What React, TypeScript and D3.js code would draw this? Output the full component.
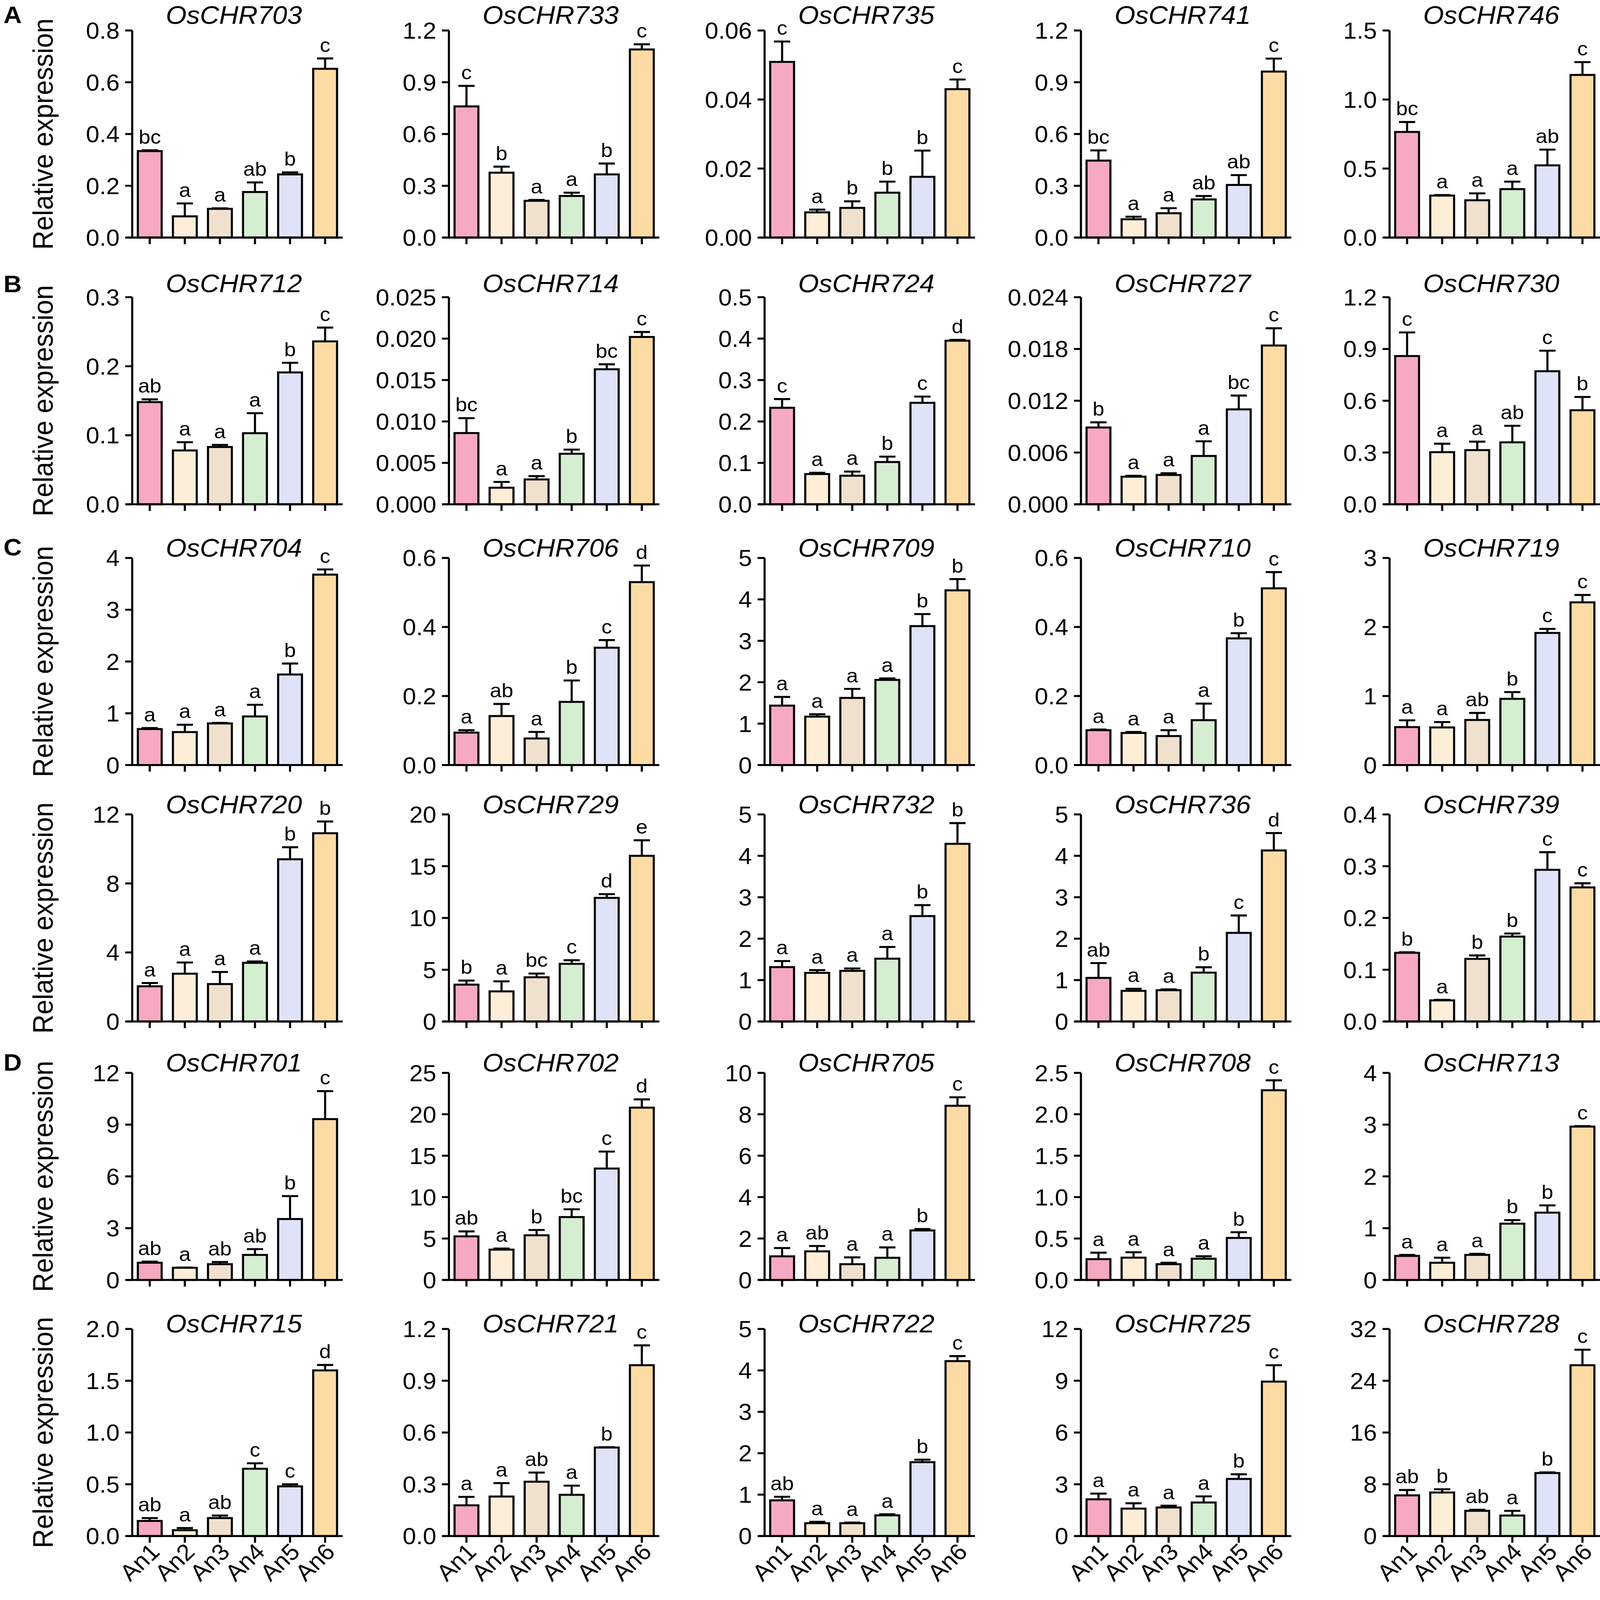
import * as d3 from 'd3'

// groups and fill colours
const groups = ['An1', 'An2', 'An3', 'An4', 'An5', 'An6']
const barColors = ['#F8A9C2', '#FDEED8', '#EFE1CD', '#D5EDD0', '#DEE3F8', '#FDDBA5']

// panels, row by row (5 per row)
const geneNames = [
  'OsCHR703', 'OsCHR733', 'OsCHR735', 'OsCHR741', 'OsCHR746',
  'OsCHR712', 'OsCHR714', 'OsCHR724', 'OsCHR727', 'OsCHR730',
  'OsCHR704', 'OsCHR706', 'OsCHR709', 'OsCHR710', 'OsCHR719',
  'OsCHR720', 'OsCHR729', 'OsCHR732', 'OsCHR736', 'OsCHR739',
  'OsCHR701', 'OsCHR702', 'OsCHR705', 'OsCHR708', 'OsCHR713',
  'OsCHR715', 'OsCHR721', 'OsCHR722', 'OsCHR725', 'OsCHR728',
]

const yTickLabels = [
  ['0.0', '0.2', '0.4', '0.6', '0.8'],
  ['0.0', '0.3', '0.6', '0.9', '1.2'],
  ['0.00', '0.02', '0.04', '0.06'],
  ['0.0', '0.3', '0.6', '0.9', '1.2'],
  ['0.0', '0.5', '1.0', '1.5'],
  ['0.0', '0.1', '0.2', '0.3'],
  ['0.000', '0.005', '0.010', '0.015', '0.020', '0.025'],
  ['0.0', '0.1', '0.2', '0.3', '0.4', '0.5'],
  ['0.000', '0.006', '0.012', '0.018', '0.024'],
  ['0.0', '0.3', '0.6', '0.9', '1.2'],
  ['0', '1', '2', '3', '4'],
  ['0.0', '0.2', '0.4', '0.6'],
  ['0', '1', '2', '3', '4', '5'],
  ['0.0', '0.2', '0.4', '0.6'],
  ['0', '1', '2', '3'],
  ['0', '4', '8', '12'],
  ['0', '5', '10', '15', '20'],
  ['0', '1', '2', '3', '4', '5'],
  ['0', '1', '2', '3', '4', '5'],
  ['0.0', '0.1', '0.2', '0.3', '0.4'],
  ['0', '3', '6', '9', '12'],
  ['0', '5', '10', '15', '20', '25'],
  ['0', '2', '4', '6', '8', '10'],
  ['0.0', '0.5', '1.0', '1.5', '2.0', '2.5'],
  ['0', '1', '2', '3', '4'],
  ['0.0', '0.5', '1.0', '1.5', '2.0'],
  ['0.0', '0.3', '0.6', '0.9', '1.2'],
  ['0', '1', '2', '3', '4', '5'],
  ['0', '3', '6', '9', '12'],
  ['0', '8', '16', '24', '32'],
]

const means = [
  [0.334, 0.082, 0.111, 0.176, 0.244, 0.652],
  [0.76, 0.376, 0.213, 0.241, 0.366, 1.09],
  [0.0509, 0.0073, 0.0086, 0.013, 0.0176, 0.043],
  [0.446, 0.106, 0.141, 0.221, 0.305, 0.962],
  [0.765, 0.304, 0.27, 0.351, 0.523, 1.178],
  [0.148, 0.078, 0.083, 0.103, 0.191, 0.236],
  [0.0086, 0.002, 0.003, 0.0061, 0.0163, 0.0202],
  [0.233, 0.073, 0.069, 0.102, 0.245, 0.395],
  [0.0089, 0.0032, 0.0034, 0.0056, 0.011, 0.0184],
  [0.859, 0.302, 0.314, 0.359, 0.771, 0.545],
  [0.695, 0.637, 0.804, 0.939, 1.749, 3.678],
  [0.094, 0.142, 0.077, 0.183, 0.34, 0.53],
  [1.435, 1.169, 1.621, 2.056, 3.355, 4.218],
  [0.101, 0.093, 0.084, 0.13, 0.367, 0.512],
  [0.55, 0.545, 0.653, 0.959, 1.914, 2.357],
  [2.04, 2.77, 2.17, 3.4, 9.4, 10.91],
  [3.56, 2.91, 4.27, 5.57, 11.94, 16.0],
  [1.313, 1.175, 1.223, 1.517, 2.545, 4.29],
  [1.053, 0.74, 0.756, 1.18, 2.14, 4.13],
  [0.1327, 0.0408, 0.121, 0.164, 0.293, 0.259],
  [0.997, 0.706, 0.913, 1.45, 3.53, 9.32],
  [5.26, 3.66, 5.39, 7.59, 13.45, 20.8],
  [1.14, 1.38, 0.76, 1.07, 2.39, 8.41],
  [0.251, 0.269, 0.19, 0.256, 0.507, 2.29],
  [0.464, 0.332, 0.484, 1.087, 1.3, 2.962],
  [0.146, 0.056, 0.174, 0.65, 0.48, 1.6],
  [0.178, 0.229, 0.315, 0.239, 0.513, 0.99],
  [0.862, 0.31, 0.31, 0.5, 1.784, 4.224],
  [2.13, 1.59, 1.655, 1.945, 3.31, 8.95],
  [6.29, 6.73, 3.9, 3.17, 9.74, 26.4],
]

const sems = [
  [0.003, 0.05, 0.002, 0.037, 0.008, 0.04],
  [0.119, 0.035, 0.005, 0.019, 0.063, 0.03],
  [0.0059, 0.0008, 0.0019, 0.0032, 0.0076, 0.0028],
  [0.059, 0.015, 0.029, 0.02, 0.057, 0.075],
  [0.072, 0.004, 0.05, 0.054, 0.114, 0.093],
  [0.004, 0.012, 0.003, 0.029, 0.014, 0.02],
  [0.0018, 0.0007, 0.0004, 0.0005, 0.0006, 0.0006],
  [0.021, 0.003, 0.01, 0.013, 0.015, 0.002],
  [0.0006, 0.0001, 0.0002, 0.0017, 0.0016, 0.002],
  [0.137, 0.049, 0.049, 0.096, 0.119, 0.077],
  [0.02, 0.141, 0.01, 0.225, 0.212, 0.1],
  [0.007, 0.035, 0.019, 0.062, 0.022, 0.048],
  [0.21, 0.057, 0.218, 0.034, 0.29, 0.272],
  [0.002, 0.003, 0.017, 0.048, 0.015, 0.047],
  [0.098, 0.078, 0.102, 0.098, 0.058, 0.107],
  [0.19, 0.65, 0.7, 0.08, 0.7, 0.68],
  [0.39, 0.97, 0.36, 0.35, 0.36, 1.5],
  [0.147, 0.065, 0.057, 0.283, 0.265, 0.5],
  [0.357, 0.05, 0.02, 0.13, 0.42, 0.42],
  [0.001, 0.001, 0.0066, 0.006, 0.034, 0.008],
  [0.063, 0.01, 0.127, 0.335, 1.33, 1.62],
  [0.6, 0.13, 0.64, 0.94, 2.05, 1.0],
  [0.4, 0.26, 0.33, 0.5, 0.07, 0.41],
  [0.078, 0.065, 0.018, 0.03, 0.069, 0.12],
  [0.02, 0.097, 0.02, 0.069, 0.14, 0.01],
  [0.028, 0.021, 0.024, 0.053, 0.02, 0.052],
  [0.049, 0.078, 0.053, 0.053, 0.002, 0.115],
  [0.086, 0.035, 0.015, 0.026, 0.061, 0.121],
  [0.33, 0.31, 0.105, 0.355, 0.27, 0.95],
  [0.83, 0.5, 0.16, 0.73, 0.1, 2.4],
]

const sigLetters = [
  ['bc', 'a', 'a', 'ab', 'b', 'c'],
  ['c', 'b', 'a', 'a', 'b', 'c'],
  ['c', 'a', 'b', 'b', 'b', 'c'],
  ['bc', 'a', 'a', 'ab', 'ab', 'c'],
  ['bc', 'a', 'a', 'a', 'ab', 'c'],
  ['ab', 'a', 'a', 'a', 'b', 'c'],
  ['bc', 'a', 'a', 'b', 'bc', 'c'],
  ['c', 'a', 'a', 'b', 'c', 'd'],
  ['b', 'a', 'a', 'a', 'bc', 'c'],
  ['c', 'a', 'a', 'ab', 'c', 'b'],
  ['a', 'a', 'a', 'a', 'b', 'c'],
  ['a', 'ab', 'a', 'b', 'c', 'd'],
  ['a', 'a', 'a', 'a', 'b', 'b'],
  ['a', 'a', 'a', 'a', 'b', 'c'],
  ['a', 'a', 'ab', 'b', 'c', 'c'],
  ['a', 'a', 'a', 'a', 'b', 'b'],
  ['b', 'a', 'bc', 'c', 'd', 'e'],
  ['a', 'a', 'a', 'a', 'b', 'b'],
  ['ab', 'a', 'a', 'b', 'c', 'd'],
  ['b', 'a', 'b', 'b', 'c', 'c'],
  ['ab', 'a', 'ab', 'ab', 'b', 'c'],
  ['ab', 'a', 'b', 'bc', 'c', 'd'],
  ['a', 'ab', 'a', 'a', 'b', 'c'],
  ['a', 'a', 'a', 'a', 'b', 'c'],
  ['a', 'a', 'a', 'b', 'b', 'c'],
  ['ab', 'a', 'ab', 'c', 'c', 'd'],
  ['a', 'a', 'ab', 'a', 'b', 'c'],
  ['ab', 'a', 'a', 'a', 'b', 'c'],
  ['a', 'a', 'a', 'a', 'b', 'c'],
  ['ab', 'b', 'ab', 'a', 'b', 'c'],
]

const panelTags = ['A', 'B', 'C', 'D']

// layout (pixels of the 4562 x 4829 figure)
const W = 4562
const H = 4829
const colX = [377, 1280, 2180, 3082, 3962]
const rowTop = [92, 897, 1684, 2458, 3238, 4011]
const titleY = [72, 882, 1680, 2455, 3234, 4022]
const tagY = [70, 882, 1676, 3232]
const plotW = 600
const plotH = 625
const font = '"Liberation Sans", Arial, Helvetica, sans-serif'
const stroke = 6

function Panel({ i }: { i: number }) {
  const r = Math.floor(i / 5)
  const c = i % 5
  const x0 = colX[c]
  const y0 = rowTop[r]
  const ticks = yTickLabels[i]
  const yMax = +ticks[ticks.length - 1]

  const x = d3.scaleBand<string>().domain(groups).range([0, plotW]).paddingInner(0.32).paddingOuter(0.16)
  const y = d3.scaleLinear().domain([0, yMax]).range([plotH, 0])
  const bw = x.bandwidth()
  const capW = bw * 0.68

  return (
    <g transform={`translate(${x0},${y0})`}>
      <text x={plotW / 2 - 10} y={titleY[r] - y0} textAnchor="middle" fontSize={76}
        fontStyle="italic" fontFamily={font}>{geneNames[i]}</text>

      {groups.map((g, k) => {
        const cx = (x(g) || 0) + bw / 2
        const top = means[i][k] + sems[i][k]
        return (
          <g key={g}>
            <line x1={cx} x2={cx} y1={y(means[i][k])} y2={y(top)} stroke="#000" strokeWidth={stroke} />
            <line x1={cx - capW / 2} x2={cx + capW / 2} y1={y(top)} y2={y(top)} stroke="#000" strokeWidth={stroke} />
            <rect x={x(g)} y={y(means[i][k])} width={bw} height={plotH - y(means[i][k])}
              fill={barColors[k]} stroke="#000" strokeWidth={stroke} />
            <text x={cx} y={y(top) - 20} textAnchor="middle" fontSize={60} fontFamily={font}>{sigLetters[i][k]}</text>
            <line x1={cx} x2={cx} y1={plotH} y2={plotH + 20} stroke="#000" strokeWidth={stroke} />
            {r === 5 && (
              <text transform={`translate(${cx + 32},${plotH + 52}) rotate(-45)`} textAnchor="end"
                fontSize={70} fontFamily={font}>{g}</text>
            )}
          </g>
        )
      })}

      {ticks.map((t) => (
        <g key={t} transform={`translate(0,${y(+t)})`}>
          <line x1={-20} x2={0} stroke="#000" strokeWidth={stroke} />
          <text x={-36} dy="0.36em" textAnchor="end" fontSize={69} fontFamily={font}>{t}</text>
        </g>
      ))}
      <line x1={0} x2={0} y1={0} y2={plotH} stroke="#000" strokeWidth={stroke} />
      <line x1={-16} x2={plotW} y1={plotH} y2={plotH} stroke="#000" strokeWidth={stroke} />
    </g>
  )
}

export default function App() {
  // the figure is stretched to whatever viewport the page gets
  return (
    <div style={{ position: 'fixed', left: 0, top: 0, width: '100vw', height: '100vh', background: '#fff' }}>
      <svg viewBox={`0 0 ${W} ${H}`} width="100%" height="100%" preserveAspectRatio="none"
        style={{ display: 'block' }}>
        <rect width={W} height={H} fill="#fff" />
        {geneNames.map((_, i) => <Panel key={i} i={i} />)}
        {rowTop.map((t, r) => (
          <text key={r} transform={`translate(150,${t + plotH / 2}) rotate(-90)`} textAnchor="middle"
            fontSize={80} fontFamily={font}>Relative expression</text>
        ))}
        {panelTags.map((t, k) => (
          <text key={t} x={10} y={tagY[k]} fontSize={72} fontWeight="bold" fontFamily={font}>{t}</text>
        ))}
      </svg>
    </div>
  )
}
